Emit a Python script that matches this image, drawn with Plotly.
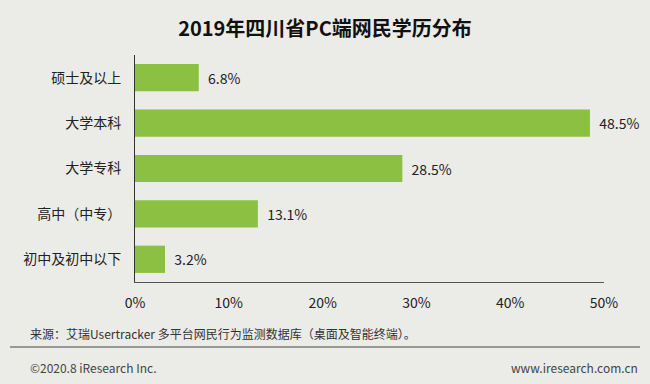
import plotly.graph_objects as go

categories = ["硕士及以上", "大学本科", "大学专科", "高中（中专）", "初中及初中以下"]
values = [6.8, 48.5, 28.5, 13.1, 3.2]
tick_vals = [0, 10, 20, 30, 40, 50]
tick_text = ["0%", "10%", "20%", "30%", "40%", "50%"]

FONT = "Noto Sans CJK SC"
fig = go.Figure()
fig.add_trace(go.Bar(
    y=categories, x=values, orientation="h",
    marker=dict(color="#8cc043", line=dict(width=0)),
    text=[f"\u00a0\u00a0{v}%" for v in values], textposition="outside",
    textfont=dict(family=FONT, size=14, color="#222222"),
    cliponaxis=False, width=0.6,
))
fig.update_layout(
    width=650, height=384,
    paper_bgcolor="#ebebe8", plot_bgcolor="#ebebe8",
    margin=dict(l=135, r=46, t=55, b=102),
    showlegend=False,
    title=dict(text="<b>2019年四川省PC端网民学历分布</b>", x=0.5, xanchor="center",
               y=0.925, yanchor="middle", font=dict(family=FONT, size=20, color="#111111")),
    xaxis=dict(range=[0, 50], tickvals=tick_vals, ticktext=tick_text, showgrid=False,
               zeroline=False, showline=True, linecolor="#555555", linewidth=1,
               ticks="", ticklabelstandoff=8,
               tickfont=dict(family=FONT, size=14, color="#222222")),
    yaxis=dict(autorange="reversed", showgrid=False, showline=True, linecolor="#333333",
               linewidth=1, ticks="", ticklabelstandoff=10,
               tickfont=dict(family=FONT, size=14, color="#222222")),
)
fig.add_annotation(text="来源：艾瑞Usertracker 多平台网民行为监测数据库（桌面及智能终端）。",
                   xref="paper", yref="paper", x=-107/469, y=-(333-282)/227,
                   xanchor="left", yanchor="middle", showarrow=False,
                   font=dict(family=FONT, size=12, color="#333333"))
fig.add_shape(type="line", xref="paper", yref="paper", x0=-125/469, x1=(640-135)/469,
              y0=-(347-282)/227, y1=-(347-282)/227, line=dict(color="#444444", width=1))
fig.add_annotation(text="©2020.8 iResearch Inc.", xref="paper", yref="paper",
                   x=-107/469, y=-(367-282)/227, xanchor="left", yanchor="middle",
                   showarrow=False, font=dict(family=FONT, size=12, color="#444444"))
fig.add_annotation(text="www.iresearch.com.cn", xref="paper", yref="paper",
                   x=(640-135)/469, y=-(367-282)/227, xanchor="right", yanchor="middle",
                   showarrow=False, font=dict(family=FONT, size=12, color="#444444"))
fig.write_html("out.html", config={"displayModeBar": False},
               post_script="document.body.style.margin='0';document.body.style.overflow='hidden';")
